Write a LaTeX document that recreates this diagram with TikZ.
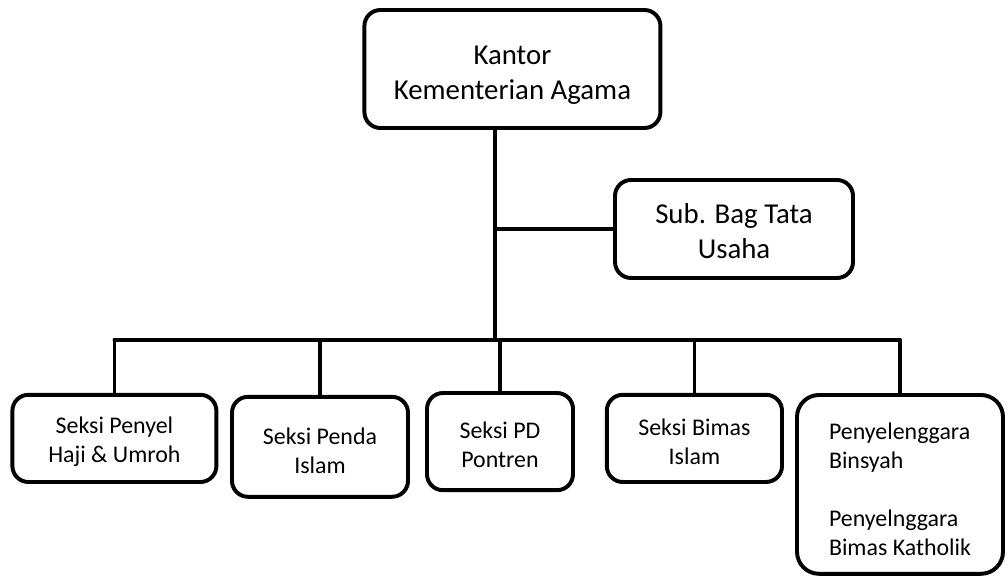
\documentclass[tikz,border=0pt]{standalone}
\usepackage{fontspec}
\setmainfont{Carlito}
\usetikzlibrary{calc}
% 首行加高，使文字整体下移
\newcommand{\topstrut}[1]{\rule{0pt}{#1}}

\begin{document}
\begin{tikzpicture}[line cap=round,
  unit/.style={draw, line width=2.8pt, rounded corners=0.4cm, align=center, inner sep=0pt},
  bigtext/.style={font=\fontsize{20.5}{25.2}\selectfont},
  smalltext/.style={font=\fontsize{17}{20.6}\selectfont},
  link/.style={line width=2.7pt}]
\useasboundingbox (0,0) rectangle (25.2,14.4);
% 顶层：Kantor
\node[unit, bigtext, minimum width=7.4cm, minimum height=2.95cm] (kantor) at (12.81,12.675) {\topstrut{22pt}Kantor\\Kementerian Agama};
% 侧边：Sub. Bag
\node[unit, bigtext, minimum width=5.95cm, minimum height=2.45cm] (subbag) at (18.35,8.675) {\topstrut{17pt}Sub. Bag Tata\\Usaha};
% 下层五个单元
\node[unit, smalltext, minimum width=5.1cm, minimum height=2.18cm] (b1) at (2.86,3.44) {\topstrut{17pt}Seksi Penyel\\Haji \& Umroh};
\node[unit, smalltext, minimum width=4.4cm, minimum height=2.5cm] (b2) at (8.0,3.23) {\topstrut{17pt}Seksi Penda\\Islam};
\node[unit, smalltext, minimum width=3.65cm, minimum height=2.43cm] (b3) at (12.5,3.36) {\topstrut{17pt}Seksi PD\\Pontren};
\node[unit, smalltext, minimum width=4.38cm, minimum height=2.18cm] (b4) at (17.36,3.44) {\topstrut{17pt}Seksi Bimas\\Islam};
\node[unit, smalltext, rounded corners=0.55cm, minimum width=5.15cm, minimum height=4.47cm] (b5) at (22.5,2.29)
  {\begin{tabular}{@{}l@{}}\topstrut{25pt}Penyelenggara\\Binsyah\\[20.6pt]Penyelnggara\\Bimas Katholik\end{tabular}};
% 连线
\coordinate (jct) at (12.375,5.9);
\draw[link] (kantor.south -| jct) -- (jct);
\draw[link] (jct |- subbag.west) -- (subbag.west);
\draw[link] (b1.north |- jct) -- (b5.north |- jct);
\foreach \b in {b1,b2,b3,b4,b5}
  \draw[link] (\b.north |- jct) -- (\b.north);
\end{tikzpicture}
\end{document}
